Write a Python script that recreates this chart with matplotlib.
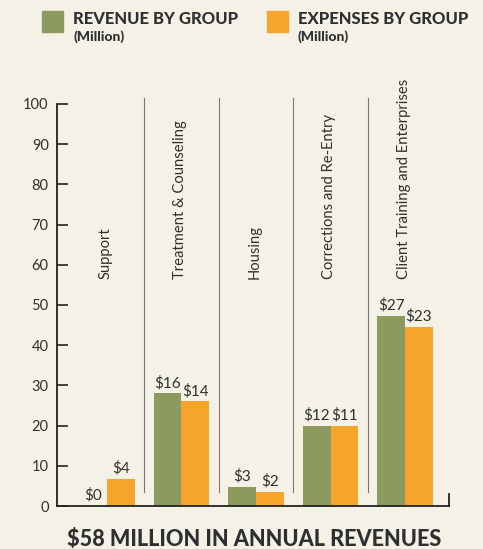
import matplotlib
matplotlib.use("Agg")
import matplotlib.pyplot as plt
import numpy as np

categories = ["Support", "Treatment & Counseling", "Housing",
              "Corrections and Re-Entry", "Client Training and Enterprises"]
revenue = [0, 28, 4.7, 20, 47.3]
expenses = [6.7, 26, 3.5, 20, 44.5]
revenue_labels = ["$0", "$16", "$3", "$12", "$27"]
expenses_labels = ["$4", "$14", "$2", "$11", "$23"]
yticks = [0, 10, 20, 30, 40, 50, 60, 70, 80, 90, 100]
legend_labels = ["REVENUE BY GROUP\n(Million)", "EXPENSES BY GROUP\n(Million)"]
title = "$58 MILLION IN ANNUAL REVENUES"

bg = "#f4f2e7"
green = "#8c9a5e"
orange = "#f7a52a"
txt = "#2f2f2f"

plt.rcParams['font.family'] = ['Lato', 'DejaVu Sans']

fig = plt.figure(figsize=(4.83, 5.49), dpi=100, facecolor=bg)
ax = fig.add_axes([57/483, 1-506/549, (449-57)/483, (506-104)/549])
ax.set_facecolor(bg)

x = np.arange(len(categories))
w = 0.375
ax.bar(x - w/2, revenue, width=w, color=green, zorder=2)
ax.bar(x + w/2, expenses, width=w, color=orange, zorder=2)

for i in range(len(categories)):
    ax.text(x[i] - w/2, revenue[i] + 0.8, revenue_labels[i], ha="center", va="bottom",
            fontsize=11, color=txt)
    ax.text(x[i] + w/2, expenses[i] + 0.8, expenses_labels[i], ha="center", va="bottom",
            fontsize=11, color=txt)
    ax.text(x[i] - 0.02, 56.5, categories[i], rotation=90, ha="center", va="bottom",
            fontsize=10.6, color=txt)

# separators
for s in (x[:-1] + 0.5):
    ax.plot([s, s], [3.5, 101.5], color="#777777", lw=0.8, clip_on=False, zorder=1)

ax.set_xlim(-0.67, 4.59)
ax.set_ylim(0, 100)
ax.set_xticks([])
ax.set_yticks(yticks)
ax.set_yticklabels([str(t) for t in yticks], fontsize=10.5, color=txt)
ax.tick_params(axis="y", direction="in", length=8, width=1.2, pad=6, color="#222222")
for side in ("top", "right"):
    ax.spines[side].set_visible(False)
for side in ("left", "bottom"):
    ax.spines[side].set_linewidth(1.3)
    ax.spines[side].set_color("#222222")
ax.plot([4.59, 4.59], [0, 3], color="#222222", lw=1.3, clip_on=False)

# legend
fig.patches.append(plt.Rectangle((42/483, 1-32/549), 21/483, 21/549,
                                 transform=fig.transFigure, color=green))
fig.patches.append(plt.Rectangle((267/483, 1-32/549), 21/483, 21/549,
                                 transform=fig.transFigure, color=orange))
for xp, lab in ((73, legend_labels[0]), (298, legend_labels[1])):
    first, second = lab.split("\n")
    fig.text(xp/483, 1-19/549, first, fontsize=12, fontweight="black", color=txt,
             ha="left", va="center")
    fig.text(xp/483, 1-37/549, second, fontsize=10, fontweight="black", color=txt,
             ha="left", va="center")

fig.text(254/483, 1-539/549, title, fontsize=15.6, fontweight="black", color=txt,
         ha="center", va="center")

fig.savefig("out.png", dpi=100, facecolor=bg)
